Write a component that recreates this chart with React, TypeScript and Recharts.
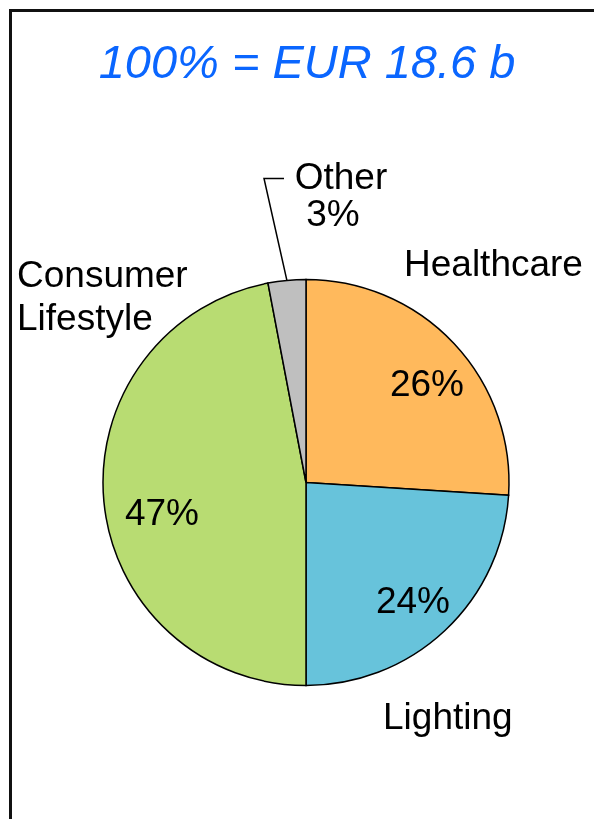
import React from "react";
import { Pie, PieChart, Cell } from "recharts";

// segment shares of total sales, %
const segments = ["Healthcare", "Lighting", "Consumer Lifestyle", "Other"];
const shares = [26, 24, 47, 3];
const colors = ["#FFB95C", "#67C3DB", "#B8DC72", "#BFBFBF"];
const titleText = "100% = EUR 18.6 b";

const data = segments.map((name, i) => ({ name, value: shares[i] }));

// label placement, offsets from the pie centre (baseline y)
const labelPos = [
  { pct: [121, -87], name: [98, -207], anchor: "start", wrap: false },
  { pct: [107, 130], name: [77, 246], anchor: "start", wrap: false },
  { pct: [-144, 42], name: [-289, -196], anchor: "start", wrap: true },
  { pct: [27, -257], name: [35, -294], anchor: "middle", wrap: false },
];

const FONT = "'Liberation Sans', Arial, sans-serif";
const FS = 37;

const renderLabel = (props: any) => {
  const { cx, cy, index, midAngle, outerRadius, value, name } = props;
  const p = labelPos[index];
  const lines = p.wrap ? name.split(" ") : [name];
  const RADIAN = Math.PI / 180;
  let leader = null;
  if (index === 3) {
    const sx = cx + outerRadius * Math.cos(-midAngle * RADIAN);
    const sy = cy + outerRadius * Math.sin(-midAngle * RADIAN);
    leader = (
      <path
        d={`M${sx},${sy} L${cx - 42},${cy - 304} L${cx - 22},${cy - 304}`}
        stroke="#000"
        strokeWidth={1.5}
        fill="none"
      />
    );
  }
  return (
    <g key={`lbl-${index}`}>
      {leader}
      <text x={cx + p.pct[0]} y={cy + p.pct[1]} textAnchor="middle" fill="#000" fontSize={FS} fontFamily={FONT}>
        {`${value}%`}
      </text>
      {lines.map((ln: string, k: number) => (
        <text
          key={k}
          x={cx + p.name[0]}
          y={cy + p.name[1] + k * 43}
          textAnchor={p.anchor}
          fill="#000"
          fontSize={FS}
          fontFamily={FONT}
        >
          {ln}
        </text>
      ))}
    </g>
  );
};

export default function App() {
  return (
    <div
      style={{
        position: "fixed",
        left: 9,
        top: 9,
        width: 620,
        height: 840,
        borderTop: "3px solid #111",
        borderLeft: "3px solid #111",
      }}
    >
      <style>{"html,body{overflow:hidden;background:#fff}"}</style>
      <div
        style={{
          position: "absolute",
          left: 0,
          top: 26,
          width: 590,
          textAlign: "center",
          fontFamily: FONT,
          fontStyle: "italic",
          fontSize: 47,
          lineHeight: 1,
          color: "#0A66FF",
          whiteSpace: "nowrap",
        }}
      >
        {titleText}
      </div>
      <div style={{ position: "absolute", left: 0, top: 0 }}>
        <PieChart width={582} height={807} margin={{ top: 0, right: 0, bottom: 0, left: 0 }}>
          <Pie
            data={data}
            dataKey="value"
            nameKey="name"
            cx={294}
            cy={470.5}
            outerRadius={203}
            startAngle={90}
            endAngle={-270}
            stroke="#000"
            strokeWidth={1.5}
            label={renderLabel}
            labelLine={false}
            isAnimationActive={false}
          >
            {data.map((d, i) => (
              <Cell key={d.name} fill={colors[i]} />
            ))}
          </Pie>
        </PieChart>
      </div>
    </div>
  );
}
